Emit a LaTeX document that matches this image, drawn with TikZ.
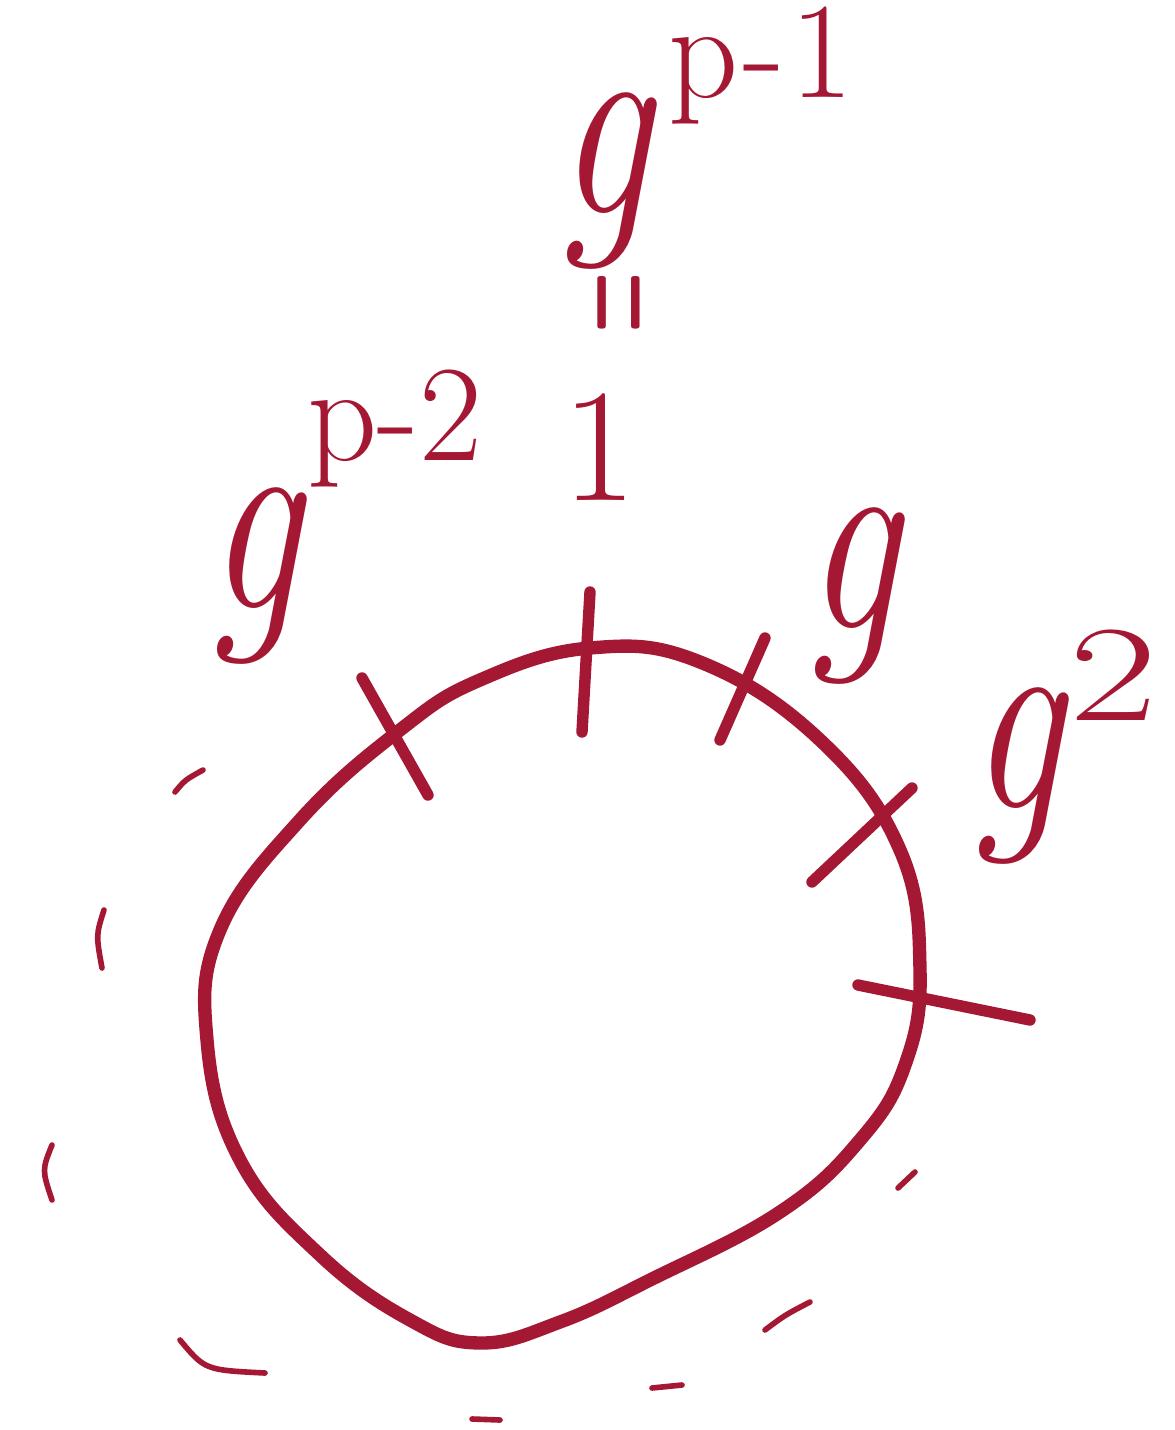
\documentclass[tikz,border=0pt]{standalone}
\usepackage{graphicx}
\usepackage{tikz}
\definecolor{ink}{RGB}{165,24,52}
\tikzset{
  ring/.style={draw=ink, line width=7.6pt, line cap=round, line join=round},
  tickmark/.style={draw=ink, line width=6.5pt, line cap=round},
  shadestroke/.style={draw=ink, line width=3.2pt, line cap=round},
  lab/.style={text=ink, inner sep=0pt, font=\fontsize{120}{120}\selectfont},
  suplab/.style={text=ink, inner sep=0pt, anchor=base west, font=\fontsize{78}{78}\selectfont},
}
\newcommand{\tallg}{\scalebox{1}[1.3]{\textit{g}}}
\begin{document}
\begin{tikzpicture}[x=0.02cm, y=-0.02cm]
\useasboundingbox (0,0) rectangle (1175,1430);
% the ring
\draw[ring] plot[smooth cycle, tension=0.7] coordinates {
 (590,648) (700,662) (820,740) (900,850)
 (920,970) (905,1065) (860,1140) (780,1212)
 (650,1280) (560,1322) (480,1343) (410,1320)
 (320,1255) (240,1160) (207,1040) (220,930)
 (300,820) (400,730) (480,680)};
% tick marks
\coordinate (t1a) at (362,678); \coordinate (t1b) at (428,795);
\coordinate (t2a) at (590,592); \coordinate (t2b) at (582,732);
\coordinate (t3a) at (765,638); \coordinate (t3b) at (720,740);
\coordinate (t4a) at (912,788); \coordinate (t4b) at (812,882);
\coordinate (t5a) at (858,985); \coordinate (t5b) at (1030,1020);
\draw[tickmark] (t1a) -- (t1b);
\draw[tickmark] (t2a) -- (t2b);
\draw[tickmark] (t3a) -- (t3b);
\draw[tickmark] (t4a) -- (t4b);
\draw[tickmark] (t5a) -- (t5b);
% outer shading strokes
\draw[shadestroke] (175,792) .. controls (185,780) .. (203,770);
\draw[shadestroke] (104,910) .. controls (96,935) .. (102,968);
\draw[shadestroke] (52,1145) .. controls (42,1170) .. (52,1200);
\draw[shadestroke] (180,1340) .. controls (205,1370) .. (265,1373);
\draw[shadestroke] (472,1419) -- (500,1420);
\draw[shadestroke] (652,1388) -- (682,1385);
\draw[shadestroke] (765,1330) .. controls (785,1315) .. (810,1302);
\draw[shadestroke] (898,1188) -- (915,1172);
% labels
\node[lab, anchor=base west] (gp1) at (556,213) {\tallg};
\node[suplab] (gp1s) at ([xshift=6pt, yshift=66pt]gp1.base east) {p\hspace{3pt}-\hspace{3pt}1};
\node[lab, font=\fontsize{40}{40}\selectfont\bfseries, rotate=90] (eq) at (628,303) {\scalebox{1}[2.2]{=}};
\node[lab, font=\fontsize{92}{92}\selectfont, anchor=base] (one) at (600,500) {1};
\node[lab, anchor=base west] (g1) at (804,628) {\tallg};
\node[lab, anchor=base west] (g2) at (968,808) {\tallg};
\node[suplab] (g2s) at ([yshift=50pt]g2.base east) {\scalebox{1.4}[1]{2}};
\node[lab, anchor=base west] (gp2) at (206,608) {\tallg};
\node[suplab] (gp2s) at ([yshift=84pt]gp2.base east) {p-2};
\end{tikzpicture}
\end{document}
